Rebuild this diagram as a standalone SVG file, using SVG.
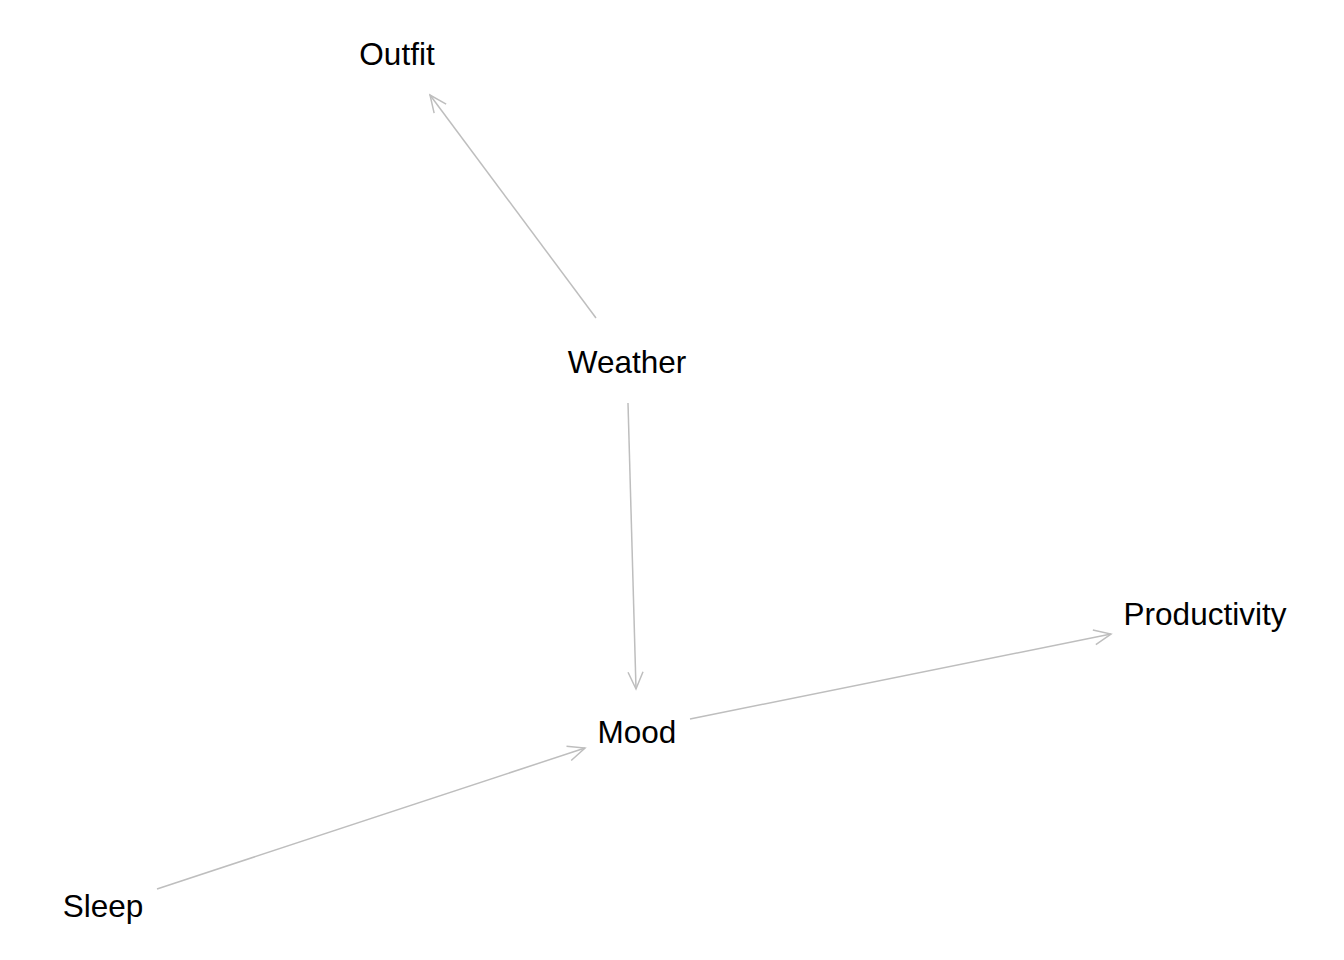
<svg xmlns="http://www.w3.org/2000/svg" width="1344" height="960" viewBox="0 0 1344 960">
<style>
.lbl{font-family:"Liberation Sans",Arial,sans-serif;font-size:31.5px;fill:#000;text-anchor:middle}
.edge{stroke:#bebebe;stroke-width:1.5;fill:none}
</style>
<defs>
<marker id="arr" markerUnits="userSpaceOnUse" markerWidth="24" markerHeight="24" viewBox="-20 -12 24 24" refX="0" refY="0" orient="auto">
<path d="M-17,-7.5 L0,0 L-17,7.5" fill="none" stroke="#bebebe" stroke-width="1.5"/>
</marker>
</defs>
<rect width="1344" height="960" fill="#fff"/>
<g id="connectors">
<line class="edge" x1="596" y1="318" x2="430" y2="95" marker-end="url(#arr)"/>
<line class="edge" x1="628" y1="403" x2="636" y2="689" marker-end="url(#arr)"/>
<line class="edge" x1="690" y1="719" x2="1111" y2="634" marker-end="url(#arr)"/>
<line class="edge" x1="157" y1="889" x2="585" y2="748" marker-end="url(#arr)"/>
</g>
<g id="outfit"><text class="lbl" x="397" y="65">Outfit</text></g>
<g id="weather"><text class="lbl" x="627" y="373">Weather</text></g>
<g id="mood"><text class="lbl" x="637" y="743">Mood</text></g>
<g id="productivity"><text class="lbl" x="1205" y="625">Productivity</text></g>
<g id="sleep"><text class="lbl" x="103" y="917">Sleep</text></g>
</svg>
